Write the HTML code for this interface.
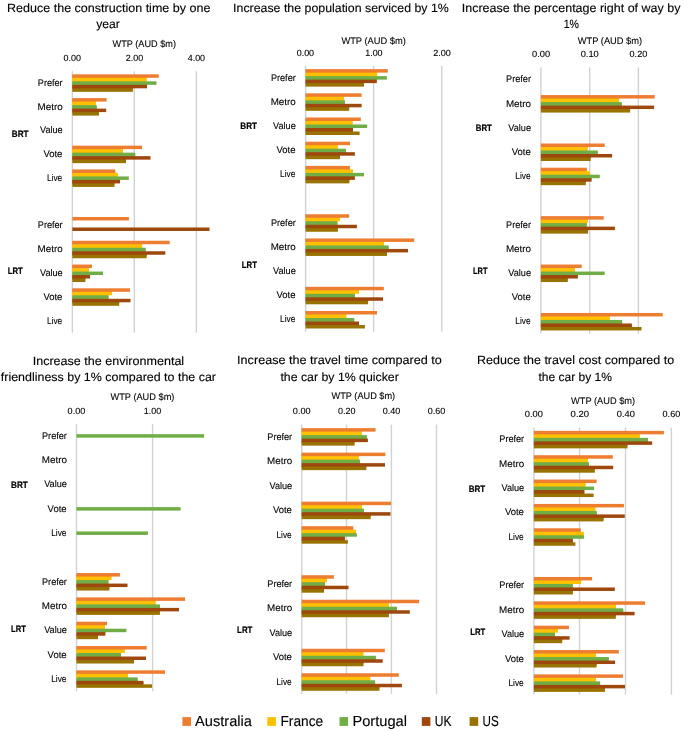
<!DOCTYPE html>
<html><head><meta charset="utf-8"><style>
html,body{margin:0;padding:0;background:#fff;}
svg{display:block;will-change:transform;}
text{font-family:"Liberation Sans",sans-serif;fill:#000;text-rendering:geometricPrecision;}
.t{stroke:#000;stroke-width:0.12px;}
.l{stroke:#000;stroke-width:0.1px;}
.b{stroke:#000;stroke-width:0.2px;}
</style></head><body>
<svg width="685" height="731" viewBox="0 0 685 731" shape-rendering="auto">
<rect width="685" height="731" fill="#fff"/>
<rect x="71.65" y="71.25" width="1.4" height="261.45" fill="#D2D2D2"/>
<rect x="133.6" y="71.25" width="1.4" height="261.45" fill="#D2D2D2"/>
<rect x="195.7" y="71.25" width="1.4" height="261.45" fill="#D2D2D2"/>
<rect x="304.9" y="65.9" width="1.4" height="265.9" fill="#D2D2D2"/>
<rect x="372.9" y="65.9" width="1.4" height="265.9" fill="#D2D2D2"/>
<rect x="441.1" y="65.9" width="1.4" height="265.9" fill="#D2D2D2"/>
<rect x="540.2" y="67.4" width="1.4" height="266.4" fill="#D2D2D2"/>
<rect x="589" y="67.4" width="1.4" height="266.4" fill="#D2D2D2"/>
<rect x="637.7" y="67.4" width="1.4" height="266.4" fill="#D2D2D2"/>
<rect x="75.8" y="424" width="1.4" height="267.2" fill="#D2D2D2"/>
<rect x="151.9" y="424" width="1.4" height="267.2" fill="#D2D2D2"/>
<rect x="301" y="424.6" width="1.4" height="269.2" fill="#D2D2D2"/>
<rect x="345.8" y="424.6" width="1.4" height="269.2" fill="#D2D2D2"/>
<rect x="390.7" y="424.6" width="1.4" height="269.2" fill="#D2D2D2"/>
<rect x="435.8" y="424.6" width="1.4" height="269.2" fill="#D2D2D2"/>
<rect x="533.2" y="427.6" width="1.4" height="266.9" fill="#D2D2D2"/>
<rect x="578.8" y="427.6" width="1.4" height="266.9" fill="#D2D2D2"/>
<rect x="624.8" y="427.6" width="1.4" height="266.9" fill="#D2D2D2"/>
<rect x="670.7" y="427.6" width="1.4" height="266.9" fill="#D2D2D2"/>
<rect x="72.35" y="75.32" width="74.15" height="3.5" fill="#ED7D31"/>
<rect x="72.35" y="74.32" width="86.35" height="3.5" fill="#ED7D31"/>
<rect x="72.35" y="78.82" width="74.15" height="3.5" fill="#FFC000"/>
<rect x="72.35" y="77.82" width="74.15" height="3.5" fill="#FFC000"/>
<rect x="72.35" y="82.32" width="74.65" height="3.5" fill="#70AD47"/>
<rect x="72.35" y="81.32" width="84.15" height="3.5" fill="#70AD47"/>
<rect x="72.35" y="85.82" width="60.55" height="3.5" fill="#9E480E"/>
<rect x="72.35" y="84.82" width="74.65" height="3.5" fill="#9E480E"/>
<rect x="72.35" y="88.32" width="60.55" height="3.5" fill="#997300"/>
<rect x="72.35" y="99.1" width="23.35" height="3.5" fill="#ED7D31"/>
<rect x="72.35" y="98.1" width="34.25" height="3.5" fill="#ED7D31"/>
<rect x="72.35" y="102.6" width="23.35" height="3.5" fill="#FFC000"/>
<rect x="72.35" y="101.6" width="23.35" height="3.5" fill="#FFC000"/>
<rect x="72.35" y="106.1" width="24.35" height="3.5" fill="#70AD47"/>
<rect x="72.35" y="105.1" width="24.35" height="3.5" fill="#70AD47"/>
<rect x="72.35" y="109.6" width="26.65" height="3.5" fill="#9E480E"/>
<rect x="72.35" y="108.6" width="33.85" height="3.5" fill="#9E480E"/>
<rect x="72.35" y="112.1" width="26.65" height="3.5" fill="#997300"/>
<rect x="72.35" y="146.65" width="50.65" height="3.5" fill="#ED7D31"/>
<rect x="72.35" y="145.65" width="69.75" height="3.5" fill="#ED7D31"/>
<rect x="72.35" y="150.15" width="50.65" height="3.5" fill="#FFC000"/>
<rect x="72.35" y="149.15" width="50.65" height="3.5" fill="#FFC000"/>
<rect x="72.35" y="153.65" width="62.85" height="3.5" fill="#70AD47"/>
<rect x="72.35" y="152.65" width="62.85" height="3.5" fill="#70AD47"/>
<rect x="72.35" y="157.15" width="53.65" height="3.5" fill="#9E480E"/>
<rect x="72.35" y="156.15" width="78.15" height="3.5" fill="#9E480E"/>
<rect x="72.35" y="159.65" width="53.65" height="3.5" fill="#997300"/>
<rect x="72.35" y="170.42" width="42.85" height="3.5" fill="#ED7D31"/>
<rect x="72.35" y="169.42" width="42.85" height="3.5" fill="#ED7D31"/>
<rect x="72.35" y="173.92" width="45.65" height="3.5" fill="#FFC000"/>
<rect x="72.35" y="172.92" width="45.65" height="3.5" fill="#FFC000"/>
<rect x="72.35" y="177.42" width="47.65" height="3.5" fill="#70AD47"/>
<rect x="72.35" y="176.42" width="56.45" height="3.5" fill="#70AD47"/>
<rect x="72.35" y="180.92" width="42.15" height="3.5" fill="#9E480E"/>
<rect x="72.35" y="179.92" width="47.65" height="3.5" fill="#9E480E"/>
<rect x="72.35" y="183.42" width="42.15" height="3.5" fill="#997300"/>
<rect x="72.35" y="216.98" width="56.55" height="3.5" fill="#ED7D31"/>
<rect x="72.35" y="227.48" width="137.15" height="3.5" fill="#9E480E"/>
<rect x="72.35" y="241.75" width="69.75" height="3.5" fill="#ED7D31"/>
<rect x="72.35" y="240.75" width="97.35" height="3.5" fill="#ED7D31"/>
<rect x="72.35" y="245.25" width="69.75" height="3.5" fill="#FFC000"/>
<rect x="72.35" y="244.25" width="69.75" height="3.5" fill="#FFC000"/>
<rect x="72.35" y="248.75" width="73.25" height="3.5" fill="#70AD47"/>
<rect x="72.35" y="247.75" width="73.25" height="3.5" fill="#70AD47"/>
<rect x="72.35" y="252.25" width="74.35" height="3.5" fill="#9E480E"/>
<rect x="72.35" y="251.25" width="92.95" height="3.5" fill="#9E480E"/>
<rect x="72.35" y="254.75" width="74.35" height="3.5" fill="#997300"/>
<rect x="72.35" y="265.53" width="16.45" height="3.5" fill="#ED7D31"/>
<rect x="72.35" y="264.53" width="19.65" height="3.5" fill="#ED7D31"/>
<rect x="72.35" y="269.03" width="16.45" height="3.5" fill="#FFC000"/>
<rect x="72.35" y="268.03" width="16.45" height="3.5" fill="#FFC000"/>
<rect x="72.35" y="272.53" width="17.75" height="3.5" fill="#70AD47"/>
<rect x="72.35" y="271.53" width="30.65" height="3.5" fill="#70AD47"/>
<rect x="72.35" y="276.03" width="13.05" height="3.5" fill="#9E480E"/>
<rect x="72.35" y="275.03" width="17.75" height="3.5" fill="#9E480E"/>
<rect x="72.35" y="278.53" width="13.05" height="3.5" fill="#997300"/>
<rect x="72.35" y="289.3" width="39.65" height="3.5" fill="#ED7D31"/>
<rect x="72.35" y="288.3" width="57.65" height="3.5" fill="#ED7D31"/>
<rect x="72.35" y="292.8" width="36.15" height="3.5" fill="#FFC000"/>
<rect x="72.35" y="291.8" width="39.65" height="3.5" fill="#FFC000"/>
<rect x="72.35" y="296.3" width="36.15" height="3.5" fill="#70AD47"/>
<rect x="72.35" y="295.3" width="36.15" height="3.5" fill="#70AD47"/>
<rect x="72.35" y="299.8" width="46.85" height="3.5" fill="#9E480E"/>
<rect x="72.35" y="298.8" width="58.15" height="3.5" fill="#9E480E"/>
<rect x="72.35" y="302.3" width="46.85" height="3.5" fill="#997300"/>
<rect x="305.6" y="70.13" width="71.5" height="3.5" fill="#ED7D31"/>
<rect x="305.6" y="69.13" width="82.2" height="3.5" fill="#ED7D31"/>
<rect x="305.6" y="73.63" width="71.5" height="3.5" fill="#FFC000"/>
<rect x="305.6" y="72.63" width="71.5" height="3.5" fill="#FFC000"/>
<rect x="305.6" y="77.13" width="71.2" height="3.5" fill="#70AD47"/>
<rect x="305.6" y="76.13" width="81.2" height="3.5" fill="#70AD47"/>
<rect x="305.6" y="80.63" width="58.4" height="3.5" fill="#9E480E"/>
<rect x="305.6" y="79.63" width="71.2" height="3.5" fill="#9E480E"/>
<rect x="305.6" y="83.13" width="58.4" height="3.5" fill="#997300"/>
<rect x="305.6" y="94.32" width="38.4" height="3.5" fill="#ED7D31"/>
<rect x="305.6" y="93.32" width="56" height="3.5" fill="#ED7D31"/>
<rect x="305.6" y="97.82" width="38.4" height="3.5" fill="#FFC000"/>
<rect x="305.6" y="96.82" width="38.4" height="3.5" fill="#FFC000"/>
<rect x="305.6" y="101.32" width="39.4" height="3.5" fill="#70AD47"/>
<rect x="305.6" y="100.32" width="39.4" height="3.5" fill="#70AD47"/>
<rect x="305.6" y="104.82" width="43.6" height="3.5" fill="#9E480E"/>
<rect x="305.6" y="103.82" width="56" height="3.5" fill="#9E480E"/>
<rect x="305.6" y="107.32" width="43.6" height="3.5" fill="#997300"/>
<rect x="305.6" y="118.5" width="46.9" height="3.5" fill="#ED7D31"/>
<rect x="305.6" y="117.5" width="55.2" height="3.5" fill="#ED7D31"/>
<rect x="305.6" y="122" width="46.9" height="3.5" fill="#FFC000"/>
<rect x="305.6" y="121" width="46.9" height="3.5" fill="#FFC000"/>
<rect x="305.6" y="125.5" width="47.3" height="3.5" fill="#70AD47"/>
<rect x="305.6" y="124.5" width="61.6" height="3.5" fill="#70AD47"/>
<rect x="305.6" y="129" width="47.3" height="3.5" fill="#9E480E"/>
<rect x="305.6" y="128" width="47.3" height="3.5" fill="#9E480E"/>
<rect x="305.6" y="131.5" width="54" height="3.5" fill="#997300"/>
<rect x="305.6" y="142.69" width="32.1" height="3.5" fill="#ED7D31"/>
<rect x="305.6" y="141.69" width="44.5" height="3.5" fill="#ED7D31"/>
<rect x="305.6" y="146.19" width="32.1" height="3.5" fill="#FFC000"/>
<rect x="305.6" y="145.19" width="32.1" height="3.5" fill="#FFC000"/>
<rect x="305.6" y="149.69" width="40.3" height="3.5" fill="#70AD47"/>
<rect x="305.6" y="148.69" width="40.3" height="3.5" fill="#70AD47"/>
<rect x="305.6" y="153.19" width="34.4" height="3.5" fill="#9E480E"/>
<rect x="305.6" y="152.19" width="49.3" height="3.5" fill="#9E480E"/>
<rect x="305.6" y="155.69" width="34.4" height="3.5" fill="#997300"/>
<rect x="305.6" y="166.87" width="44.2" height="3.5" fill="#ED7D31"/>
<rect x="305.6" y="165.87" width="44.2" height="3.5" fill="#ED7D31"/>
<rect x="305.6" y="170.37" width="47.4" height="3.5" fill="#FFC000"/>
<rect x="305.6" y="169.37" width="47.4" height="3.5" fill="#FFC000"/>
<rect x="305.6" y="173.87" width="49.3" height="3.5" fill="#70AD47"/>
<rect x="305.6" y="172.87" width="58.4" height="3.5" fill="#70AD47"/>
<rect x="305.6" y="177.37" width="43.8" height="3.5" fill="#9E480E"/>
<rect x="305.6" y="176.37" width="49.3" height="3.5" fill="#9E480E"/>
<rect x="305.6" y="179.87" width="43.8" height="3.5" fill="#997300"/>
<rect x="305.6" y="215.25" width="34.4" height="3.5" fill="#ED7D31"/>
<rect x="305.6" y="214.25" width="43.6" height="3.5" fill="#ED7D31"/>
<rect x="305.6" y="218.75" width="31.8" height="3.5" fill="#FFC000"/>
<rect x="305.6" y="217.75" width="34.4" height="3.5" fill="#FFC000"/>
<rect x="305.6" y="222.25" width="31.8" height="3.5" fill="#70AD47"/>
<rect x="305.6" y="221.25" width="31.8" height="3.5" fill="#70AD47"/>
<rect x="305.6" y="225.75" width="32.3" height="3.5" fill="#9E480E"/>
<rect x="305.6" y="224.75" width="51.3" height="3.5" fill="#9E480E"/>
<rect x="305.6" y="228.25" width="32.3" height="3.5" fill="#997300"/>
<rect x="305.6" y="239.43" width="78.2" height="3.5" fill="#ED7D31"/>
<rect x="305.6" y="238.43" width="108.6" height="3.5" fill="#ED7D31"/>
<rect x="305.6" y="242.93" width="78.2" height="3.5" fill="#FFC000"/>
<rect x="305.6" y="241.93" width="78.2" height="3.5" fill="#FFC000"/>
<rect x="305.6" y="246.43" width="83" height="3.5" fill="#70AD47"/>
<rect x="305.6" y="245.43" width="83" height="3.5" fill="#70AD47"/>
<rect x="305.6" y="249.93" width="81.4" height="3.5" fill="#9E480E"/>
<rect x="305.6" y="248.93" width="102.4" height="3.5" fill="#9E480E"/>
<rect x="305.6" y="252.43" width="81.4" height="3.5" fill="#997300"/>
<rect x="305.6" y="287.8" width="53.4" height="3.5" fill="#ED7D31"/>
<rect x="305.6" y="286.8" width="78.2" height="3.5" fill="#ED7D31"/>
<rect x="305.6" y="291.3" width="49.3" height="3.5" fill="#FFC000"/>
<rect x="305.6" y="290.3" width="53.4" height="3.5" fill="#FFC000"/>
<rect x="305.6" y="294.8" width="49.3" height="3.5" fill="#70AD47"/>
<rect x="305.6" y="293.8" width="49.3" height="3.5" fill="#70AD47"/>
<rect x="305.6" y="298.3" width="62.5" height="3.5" fill="#9E480E"/>
<rect x="305.6" y="297.3" width="77.4" height="3.5" fill="#9E480E"/>
<rect x="305.6" y="300.8" width="62.5" height="3.5" fill="#997300"/>
<rect x="305.6" y="311.99" width="40.6" height="3.5" fill="#ED7D31"/>
<rect x="305.6" y="310.99" width="71.4" height="3.5" fill="#ED7D31"/>
<rect x="305.6" y="315.49" width="40.6" height="3.5" fill="#FFC000"/>
<rect x="305.6" y="314.49" width="40.6" height="3.5" fill="#FFC000"/>
<rect x="305.6" y="318.99" width="48.6" height="3.5" fill="#70AD47"/>
<rect x="305.6" y="317.99" width="48.6" height="3.5" fill="#70AD47"/>
<rect x="305.6" y="322.49" width="53.4" height="3.5" fill="#9E480E"/>
<rect x="305.6" y="321.49" width="53.4" height="3.5" fill="#9E480E"/>
<rect x="305.6" y="324.99" width="59.3" height="3.5" fill="#997300"/>
<rect x="540.9" y="96.07" width="78.2" height="3.5" fill="#ED7D31"/>
<rect x="540.9" y="95.07" width="113.8" height="3.5" fill="#ED7D31"/>
<rect x="540.9" y="99.57" width="78.2" height="3.5" fill="#FFC000"/>
<rect x="540.9" y="98.57" width="78.2" height="3.5" fill="#FFC000"/>
<rect x="540.9" y="103.07" width="80.8" height="3.5" fill="#70AD47"/>
<rect x="540.9" y="102.07" width="80.8" height="3.5" fill="#70AD47"/>
<rect x="540.9" y="106.57" width="89.2" height="3.5" fill="#9E480E"/>
<rect x="540.9" y="105.57" width="113.2" height="3.5" fill="#9E480E"/>
<rect x="540.9" y="109.07" width="89.2" height="3.5" fill="#997300"/>
<rect x="540.9" y="144.49" width="46.7" height="3.5" fill="#ED7D31"/>
<rect x="540.9" y="143.49" width="63.8" height="3.5" fill="#ED7D31"/>
<rect x="540.9" y="147.99" width="46.7" height="3.5" fill="#FFC000"/>
<rect x="540.9" y="146.99" width="46.7" height="3.5" fill="#FFC000"/>
<rect x="540.9" y="151.49" width="56.8" height="3.5" fill="#70AD47"/>
<rect x="540.9" y="150.49" width="56.8" height="3.5" fill="#70AD47"/>
<rect x="540.9" y="154.99" width="49.8" height="3.5" fill="#9E480E"/>
<rect x="540.9" y="153.99" width="71.2" height="3.5" fill="#9E480E"/>
<rect x="540.9" y="157.49" width="49.8" height="3.5" fill="#997300"/>
<rect x="540.9" y="168.7" width="45.8" height="3.5" fill="#ED7D31"/>
<rect x="540.9" y="167.7" width="45.8" height="3.5" fill="#ED7D31"/>
<rect x="540.9" y="172.2" width="48.8" height="3.5" fill="#FFC000"/>
<rect x="540.9" y="171.2" width="48.8" height="3.5" fill="#FFC000"/>
<rect x="540.9" y="175.7" width="50.7" height="3.5" fill="#70AD47"/>
<rect x="540.9" y="174.7" width="58.9" height="3.5" fill="#70AD47"/>
<rect x="540.9" y="179.2" width="44.9" height="3.5" fill="#9E480E"/>
<rect x="540.9" y="178.2" width="50.7" height="3.5" fill="#9E480E"/>
<rect x="540.9" y="181.7" width="44.9" height="3.5" fill="#997300"/>
<rect x="540.9" y="217.12" width="46.9" height="3.5" fill="#ED7D31"/>
<rect x="540.9" y="216.12" width="62.8" height="3.5" fill="#ED7D31"/>
<rect x="540.9" y="220.62" width="45.9" height="3.5" fill="#FFC000"/>
<rect x="540.9" y="219.62" width="46.9" height="3.5" fill="#FFC000"/>
<rect x="540.9" y="224.12" width="45.9" height="3.5" fill="#70AD47"/>
<rect x="540.9" y="223.12" width="45.9" height="3.5" fill="#70AD47"/>
<rect x="540.9" y="227.62" width="47.2" height="3.5" fill="#9E480E"/>
<rect x="540.9" y="226.62" width="74" height="3.5" fill="#9E480E"/>
<rect x="540.9" y="230.12" width="47.2" height="3.5" fill="#997300"/>
<rect x="540.9" y="265.54" width="34.1" height="3.5" fill="#ED7D31"/>
<rect x="540.9" y="264.54" width="40.8" height="3.5" fill="#ED7D31"/>
<rect x="540.9" y="269.04" width="34.1" height="3.5" fill="#FFC000"/>
<rect x="540.9" y="268.04" width="34.1" height="3.5" fill="#FFC000"/>
<rect x="540.9" y="272.54" width="37" height="3.5" fill="#70AD47"/>
<rect x="540.9" y="271.54" width="63.8" height="3.5" fill="#70AD47"/>
<rect x="540.9" y="276.04" width="26.9" height="3.5" fill="#9E480E"/>
<rect x="540.9" y="275.04" width="37" height="3.5" fill="#9E480E"/>
<rect x="540.9" y="278.54" width="26.9" height="3.5" fill="#997300"/>
<rect x="540.9" y="313.96" width="68.7" height="3.5" fill="#ED7D31"/>
<rect x="540.9" y="312.96" width="121.8" height="3.5" fill="#ED7D31"/>
<rect x="540.9" y="317.46" width="68.7" height="3.5" fill="#FFC000"/>
<rect x="540.9" y="316.46" width="68.7" height="3.5" fill="#FFC000"/>
<rect x="540.9" y="320.96" width="81.2" height="3.5" fill="#70AD47"/>
<rect x="540.9" y="319.96" width="81.2" height="3.5" fill="#70AD47"/>
<rect x="540.9" y="324.46" width="90.9" height="3.5" fill="#9E480E"/>
<rect x="540.9" y="323.46" width="90.9" height="3.5" fill="#9E480E"/>
<rect x="540.9" y="326.96" width="100.6" height="3.5" fill="#997300"/>
<rect x="76.5" y="434.17" width="127.6" height="3.5" fill="#70AD47"/>
<rect x="76.5" y="507.12" width="104.1" height="3.5" fill="#70AD47"/>
<rect x="76.5" y="531.43" width="71.4" height="3.5" fill="#70AD47"/>
<rect x="76.5" y="574.07" width="35" height="3.5" fill="#ED7D31"/>
<rect x="76.5" y="573.07" width="43.4" height="3.5" fill="#ED7D31"/>
<rect x="76.5" y="577.57" width="31.9" height="3.5" fill="#FFC000"/>
<rect x="76.5" y="576.57" width="35" height="3.5" fill="#FFC000"/>
<rect x="76.5" y="581.07" width="31.9" height="3.5" fill="#70AD47"/>
<rect x="76.5" y="580.07" width="31.9" height="3.5" fill="#70AD47"/>
<rect x="76.5" y="584.57" width="32.9" height="3.5" fill="#9E480E"/>
<rect x="76.5" y="583.57" width="51" height="3.5" fill="#9E480E"/>
<rect x="76.5" y="587.07" width="32.9" height="3.5" fill="#997300"/>
<rect x="76.5" y="598.38" width="79" height="3.5" fill="#ED7D31"/>
<rect x="76.5" y="597.38" width="108.6" height="3.5" fill="#ED7D31"/>
<rect x="76.5" y="601.88" width="79" height="3.5" fill="#FFC000"/>
<rect x="76.5" y="600.88" width="79" height="3.5" fill="#FFC000"/>
<rect x="76.5" y="605.38" width="83.4" height="3.5" fill="#70AD47"/>
<rect x="76.5" y="604.38" width="83.4" height="3.5" fill="#70AD47"/>
<rect x="76.5" y="608.88" width="83.4" height="3.5" fill="#9E480E"/>
<rect x="76.5" y="607.88" width="102.5" height="3.5" fill="#9E480E"/>
<rect x="76.5" y="611.38" width="83.4" height="3.5" fill="#997300"/>
<rect x="76.5" y="622.7" width="28.4" height="3.5" fill="#ED7D31"/>
<rect x="76.5" y="621.7" width="30.6" height="3.5" fill="#ED7D31"/>
<rect x="76.5" y="626.2" width="28.4" height="3.5" fill="#FFC000"/>
<rect x="76.5" y="625.2" width="28.4" height="3.5" fill="#FFC000"/>
<rect x="76.5" y="629.7" width="28.9" height="3.5" fill="#70AD47"/>
<rect x="76.5" y="628.7" width="49.9" height="3.5" fill="#70AD47"/>
<rect x="76.5" y="633.2" width="21.5" height="3.5" fill="#9E480E"/>
<rect x="76.5" y="632.2" width="28.9" height="3.5" fill="#9E480E"/>
<rect x="76.5" y="635.7" width="21.5" height="3.5" fill="#997300"/>
<rect x="76.5" y="647.01" width="48.3" height="3.5" fill="#ED7D31"/>
<rect x="76.5" y="646.01" width="70.2" height="3.5" fill="#ED7D31"/>
<rect x="76.5" y="650.51" width="44.5" height="3.5" fill="#FFC000"/>
<rect x="76.5" y="649.51" width="48.3" height="3.5" fill="#FFC000"/>
<rect x="76.5" y="654.01" width="44.5" height="3.5" fill="#70AD47"/>
<rect x="76.5" y="653.01" width="44.5" height="3.5" fill="#70AD47"/>
<rect x="76.5" y="657.51" width="57.5" height="3.5" fill="#9E480E"/>
<rect x="76.5" y="656.51" width="69.5" height="3.5" fill="#9E480E"/>
<rect x="76.5" y="660.01" width="57.5" height="3.5" fill="#997300"/>
<rect x="76.5" y="671.33" width="51.5" height="3.5" fill="#ED7D31"/>
<rect x="76.5" y="670.33" width="88.5" height="3.5" fill="#ED7D31"/>
<rect x="76.5" y="674.83" width="51.5" height="3.5" fill="#FFC000"/>
<rect x="76.5" y="673.83" width="51.5" height="3.5" fill="#FFC000"/>
<rect x="76.5" y="678.33" width="61.1" height="3.5" fill="#70AD47"/>
<rect x="76.5" y="677.33" width="61.1" height="3.5" fill="#70AD47"/>
<rect x="76.5" y="681.83" width="66.9" height="3.5" fill="#9E480E"/>
<rect x="76.5" y="680.83" width="66.9" height="3.5" fill="#9E480E"/>
<rect x="76.5" y="684.33" width="75.5" height="3.5" fill="#997300"/>
<rect x="301.7" y="429.13" width="59.9" height="3.5" fill="#ED7D31"/>
<rect x="301.7" y="428.13" width="73.9" height="3.5" fill="#ED7D31"/>
<rect x="301.7" y="432.63" width="59.9" height="3.5" fill="#FFC000"/>
<rect x="301.7" y="431.63" width="59.9" height="3.5" fill="#FFC000"/>
<rect x="301.7" y="436.13" width="65.1" height="3.5" fill="#70AD47"/>
<rect x="301.7" y="435.13" width="65.1" height="3.5" fill="#70AD47"/>
<rect x="301.7" y="439.63" width="52.9" height="3.5" fill="#9E480E"/>
<rect x="301.7" y="438.63" width="66.2" height="3.5" fill="#9E480E"/>
<rect x="301.7" y="442.13" width="52.9" height="3.5" fill="#997300"/>
<rect x="301.7" y="453.64" width="56.9" height="3.5" fill="#ED7D31"/>
<rect x="301.7" y="452.64" width="83.7" height="3.5" fill="#ED7D31"/>
<rect x="301.7" y="457.14" width="56.9" height="3.5" fill="#FFC000"/>
<rect x="301.7" y="456.14" width="56.9" height="3.5" fill="#FFC000"/>
<rect x="301.7" y="460.64" width="58.3" height="3.5" fill="#70AD47"/>
<rect x="301.7" y="459.64" width="58.3" height="3.5" fill="#70AD47"/>
<rect x="301.7" y="464.14" width="64.6" height="3.5" fill="#9E480E"/>
<rect x="301.7" y="463.14" width="83.3" height="3.5" fill="#9E480E"/>
<rect x="301.7" y="466.64" width="64.6" height="3.5" fill="#997300"/>
<rect x="301.7" y="502.67" width="60.2" height="3.5" fill="#ED7D31"/>
<rect x="301.7" y="501.67" width="89.3" height="3.5" fill="#ED7D31"/>
<rect x="301.7" y="506.17" width="60.2" height="3.5" fill="#FFC000"/>
<rect x="301.7" y="505.17" width="60.2" height="3.5" fill="#FFC000"/>
<rect x="301.7" y="509.67" width="62.2" height="3.5" fill="#70AD47"/>
<rect x="301.7" y="508.67" width="62.2" height="3.5" fill="#70AD47"/>
<rect x="301.7" y="513.17" width="69" height="3.5" fill="#9E480E"/>
<rect x="301.7" y="512.17" width="88.8" height="3.5" fill="#9E480E"/>
<rect x="301.7" y="515.67" width="69" height="3.5" fill="#997300"/>
<rect x="301.7" y="527.19" width="51.5" height="3.5" fill="#ED7D31"/>
<rect x="301.7" y="526.19" width="51.5" height="3.5" fill="#ED7D31"/>
<rect x="301.7" y="530.69" width="54.3" height="3.5" fill="#FFC000"/>
<rect x="301.7" y="529.69" width="54.3" height="3.5" fill="#FFC000"/>
<rect x="301.7" y="534.19" width="43.2" height="3.5" fill="#70AD47"/>
<rect x="301.7" y="533.19" width="55.1" height="3.5" fill="#70AD47"/>
<rect x="301.7" y="537.69" width="43.2" height="3.5" fill="#9E480E"/>
<rect x="301.7" y="536.69" width="43.2" height="3.5" fill="#9E480E"/>
<rect x="301.7" y="540.19" width="46.2" height="3.5" fill="#997300"/>
<rect x="301.7" y="576.21" width="25.2" height="3.5" fill="#ED7D31"/>
<rect x="301.7" y="575.21" width="32.2" height="3.5" fill="#ED7D31"/>
<rect x="301.7" y="579.71" width="23.3" height="3.5" fill="#FFC000"/>
<rect x="301.7" y="578.71" width="25.2" height="3.5" fill="#FFC000"/>
<rect x="301.7" y="583.21" width="23.3" height="3.5" fill="#70AD47"/>
<rect x="301.7" y="582.21" width="23.3" height="3.5" fill="#70AD47"/>
<rect x="301.7" y="586.71" width="22.3" height="3.5" fill="#9E480E"/>
<rect x="301.7" y="585.71" width="46.8" height="3.5" fill="#9E480E"/>
<rect x="301.7" y="589.21" width="22.3" height="3.5" fill="#997300"/>
<rect x="301.7" y="600.73" width="87.2" height="3.5" fill="#ED7D31"/>
<rect x="301.7" y="599.73" width="117.4" height="3.5" fill="#ED7D31"/>
<rect x="301.7" y="604.23" width="87.2" height="3.5" fill="#FFC000"/>
<rect x="301.7" y="603.23" width="87.2" height="3.5" fill="#FFC000"/>
<rect x="301.7" y="607.73" width="95.2" height="3.5" fill="#70AD47"/>
<rect x="301.7" y="606.73" width="95.2" height="3.5" fill="#70AD47"/>
<rect x="301.7" y="611.23" width="87.2" height="3.5" fill="#9E480E"/>
<rect x="301.7" y="610.23" width="108.1" height="3.5" fill="#9E480E"/>
<rect x="301.7" y="613.73" width="87.2" height="3.5" fill="#997300"/>
<rect x="301.7" y="649.76" width="61.6" height="3.5" fill="#ED7D31"/>
<rect x="301.7" y="648.76" width="83.1" height="3.5" fill="#ED7D31"/>
<rect x="301.7" y="653.26" width="61.6" height="3.5" fill="#FFC000"/>
<rect x="301.7" y="652.26" width="61.6" height="3.5" fill="#FFC000"/>
<rect x="301.7" y="656.76" width="74.1" height="3.5" fill="#70AD47"/>
<rect x="301.7" y="655.76" width="74.1" height="3.5" fill="#70AD47"/>
<rect x="301.7" y="660.26" width="61.8" height="3.5" fill="#9E480E"/>
<rect x="301.7" y="659.26" width="81" height="3.5" fill="#9E480E"/>
<rect x="301.7" y="662.76" width="61.8" height="3.5" fill="#997300"/>
<rect x="301.7" y="674.27" width="68.5" height="3.5" fill="#ED7D31"/>
<rect x="301.7" y="673.27" width="97.1" height="3.5" fill="#ED7D31"/>
<rect x="301.7" y="677.77" width="68.5" height="3.5" fill="#FFC000"/>
<rect x="301.7" y="676.77" width="68.5" height="3.5" fill="#FFC000"/>
<rect x="301.7" y="681.27" width="73.4" height="3.5" fill="#70AD47"/>
<rect x="301.7" y="680.27" width="73.4" height="3.5" fill="#70AD47"/>
<rect x="301.7" y="684.77" width="77.8" height="3.5" fill="#9E480E"/>
<rect x="301.7" y="683.77" width="100.2" height="3.5" fill="#9E480E"/>
<rect x="301.7" y="687.27" width="77.8" height="3.5" fill="#997300"/>
<rect x="533.9" y="431.86" width="105.8" height="3.5" fill="#ED7D31"/>
<rect x="533.9" y="430.86" width="130" height="3.5" fill="#ED7D31"/>
<rect x="533.9" y="435.36" width="105.8" height="3.5" fill="#FFC000"/>
<rect x="533.9" y="434.36" width="105.8" height="3.5" fill="#FFC000"/>
<rect x="533.9" y="438.86" width="114" height="3.5" fill="#70AD47"/>
<rect x="533.9" y="437.86" width="114" height="3.5" fill="#70AD47"/>
<rect x="533.9" y="442.36" width="93.6" height="3.5" fill="#9E480E"/>
<rect x="533.9" y="441.36" width="118.3" height="3.5" fill="#9E480E"/>
<rect x="533.9" y="444.86" width="93.6" height="3.5" fill="#997300"/>
<rect x="533.9" y="456.21" width="53.9" height="3.5" fill="#ED7D31"/>
<rect x="533.9" y="455.21" width="78.9" height="3.5" fill="#ED7D31"/>
<rect x="533.9" y="459.71" width="53.9" height="3.5" fill="#FFC000"/>
<rect x="533.9" y="458.71" width="53.9" height="3.5" fill="#FFC000"/>
<rect x="533.9" y="463.21" width="55" height="3.5" fill="#70AD47"/>
<rect x="533.9" y="462.21" width="55" height="3.5" fill="#70AD47"/>
<rect x="533.9" y="466.71" width="60.9" height="3.5" fill="#9E480E"/>
<rect x="533.9" y="465.71" width="79.3" height="3.5" fill="#9E480E"/>
<rect x="533.9" y="469.21" width="60.9" height="3.5" fill="#997300"/>
<rect x="533.9" y="480.56" width="51.5" height="3.5" fill="#ED7D31"/>
<rect x="533.9" y="479.56" width="62.7" height="3.5" fill="#ED7D31"/>
<rect x="533.9" y="484.06" width="51.5" height="3.5" fill="#FFC000"/>
<rect x="533.9" y="483.06" width="51.5" height="3.5" fill="#FFC000"/>
<rect x="533.9" y="487.56" width="50.4" height="3.5" fill="#70AD47"/>
<rect x="533.9" y="486.56" width="60.2" height="3.5" fill="#70AD47"/>
<rect x="533.9" y="491.06" width="50.4" height="3.5" fill="#9E480E"/>
<rect x="533.9" y="490.06" width="50.4" height="3.5" fill="#9E480E"/>
<rect x="533.9" y="493.56" width="59.7" height="3.5" fill="#997300"/>
<rect x="533.9" y="504.92" width="61.4" height="3.5" fill="#ED7D31"/>
<rect x="533.9" y="503.92" width="90" height="3.5" fill="#ED7D31"/>
<rect x="533.9" y="508.42" width="61.4" height="3.5" fill="#FFC000"/>
<rect x="533.9" y="507.42" width="61.4" height="3.5" fill="#FFC000"/>
<rect x="533.9" y="511.92" width="62.8" height="3.5" fill="#70AD47"/>
<rect x="533.9" y="510.92" width="62.8" height="3.5" fill="#70AD47"/>
<rect x="533.9" y="515.42" width="69.7" height="3.5" fill="#9E480E"/>
<rect x="533.9" y="514.42" width="90.9" height="3.5" fill="#9E480E"/>
<rect x="533.9" y="517.92" width="69.7" height="3.5" fill="#997300"/>
<rect x="533.9" y="529.27" width="46.7" height="3.5" fill="#ED7D31"/>
<rect x="533.9" y="528.27" width="46.7" height="3.5" fill="#ED7D31"/>
<rect x="533.9" y="532.77" width="49.9" height="3.5" fill="#FFC000"/>
<rect x="533.9" y="531.77" width="49.9" height="3.5" fill="#FFC000"/>
<rect x="533.9" y="536.27" width="38.8" height="3.5" fill="#70AD47"/>
<rect x="533.9" y="535.27" width="50.1" height="3.5" fill="#70AD47"/>
<rect x="533.9" y="539.77" width="38.8" height="3.5" fill="#9E480E"/>
<rect x="533.9" y="538.77" width="38.8" height="3.5" fill="#9E480E"/>
<rect x="533.9" y="542.27" width="41.5" height="3.5" fill="#997300"/>
<rect x="533.9" y="577.97" width="47.2" height="3.5" fill="#ED7D31"/>
<rect x="533.9" y="576.97" width="58.2" height="3.5" fill="#ED7D31"/>
<rect x="533.9" y="581.47" width="39" height="3.5" fill="#FFC000"/>
<rect x="533.9" y="580.47" width="47.2" height="3.5" fill="#FFC000"/>
<rect x="533.9" y="584.97" width="39" height="3.5" fill="#70AD47"/>
<rect x="533.9" y="583.97" width="39" height="3.5" fill="#70AD47"/>
<rect x="533.9" y="588.47" width="39" height="3.5" fill="#9E480E"/>
<rect x="533.9" y="587.47" width="80.9" height="3.5" fill="#9E480E"/>
<rect x="533.9" y="590.97" width="39" height="3.5" fill="#997300"/>
<rect x="533.9" y="602.32" width="81.9" height="3.5" fill="#ED7D31"/>
<rect x="533.9" y="601.32" width="111.2" height="3.5" fill="#ED7D31"/>
<rect x="533.9" y="605.82" width="81.9" height="3.5" fill="#FFC000"/>
<rect x="533.9" y="604.82" width="81.9" height="3.5" fill="#FFC000"/>
<rect x="533.9" y="609.32" width="89.3" height="3.5" fill="#70AD47"/>
<rect x="533.9" y="608.32" width="89.3" height="3.5" fill="#70AD47"/>
<rect x="533.9" y="612.82" width="81.9" height="3.5" fill="#9E480E"/>
<rect x="533.9" y="611.82" width="100.7" height="3.5" fill="#9E480E"/>
<rect x="533.9" y="615.32" width="81.9" height="3.5" fill="#997300"/>
<rect x="533.9" y="626.68" width="24.1" height="3.5" fill="#ED7D31"/>
<rect x="533.9" y="625.68" width="35" height="3.5" fill="#ED7D31"/>
<rect x="533.9" y="630.18" width="21" height="3.5" fill="#FFC000"/>
<rect x="533.9" y="629.18" width="24.1" height="3.5" fill="#FFC000"/>
<rect x="533.9" y="633.68" width="21" height="3.5" fill="#70AD47"/>
<rect x="533.9" y="632.68" width="21" height="3.5" fill="#70AD47"/>
<rect x="533.9" y="637.18" width="28.3" height="3.5" fill="#9E480E"/>
<rect x="533.9" y="636.18" width="35.7" height="3.5" fill="#9E480E"/>
<rect x="533.9" y="639.68" width="28.3" height="3.5" fill="#997300"/>
<rect x="533.9" y="651.03" width="62.1" height="3.5" fill="#ED7D31"/>
<rect x="533.9" y="650.03" width="84.9" height="3.5" fill="#ED7D31"/>
<rect x="533.9" y="654.53" width="62.1" height="3.5" fill="#FFC000"/>
<rect x="533.9" y="653.53" width="62.1" height="3.5" fill="#FFC000"/>
<rect x="533.9" y="658.03" width="74.9" height="3.5" fill="#70AD47"/>
<rect x="533.9" y="657.03" width="74.9" height="3.5" fill="#70AD47"/>
<rect x="533.9" y="661.53" width="62.7" height="3.5" fill="#9E480E"/>
<rect x="533.9" y="660.53" width="81.2" height="3.5" fill="#9E480E"/>
<rect x="533.9" y="664.03" width="62.7" height="3.5" fill="#997300"/>
<rect x="533.9" y="675.38" width="62.1" height="3.5" fill="#ED7D31"/>
<rect x="533.9" y="674.38" width="89" height="3.5" fill="#ED7D31"/>
<rect x="533.9" y="678.88" width="62.1" height="3.5" fill="#FFC000"/>
<rect x="533.9" y="677.88" width="62.1" height="3.5" fill="#FFC000"/>
<rect x="533.9" y="682.38" width="66.2" height="3.5" fill="#70AD47"/>
<rect x="533.9" y="681.38" width="66.2" height="3.5" fill="#70AD47"/>
<rect x="533.9" y="685.88" width="71.1" height="3.5" fill="#9E480E"/>
<rect x="533.9" y="684.88" width="91.1" height="3.5" fill="#9E480E"/>
<rect x="533.9" y="688.38" width="71.1" height="3.5" fill="#997300"/>
<rect x="182.4" y="717.1" width="8.6" height="8.8" fill="#ED7D31"/>
<rect x="267.3" y="717.1" width="8.6" height="8.8" fill="#FFC000"/>
<rect x="339.5" y="717.1" width="8.6" height="8.8" fill="#70AD47"/>
<rect x="421.8" y="717.1" width="8.6" height="8.8" fill="#9E480E"/>
<rect x="469.6" y="717.1" width="8.6" height="8.8" fill="#997300"/>
<text class="t" x="7" y="11.6" font-size="12.0" textLength="203.42" lengthAdjust="spacingAndGlyphs">Reduce the construction time by one</text>
<text class="t" x="96.3" y="28.3" font-size="12.0" textLength="23.6" lengthAdjust="spacingAndGlyphs">year</text>
<text class="l" x="112.6" y="47" font-size="9.6" textLength="63.41" lengthAdjust="spacingAndGlyphs">WTP (AUD $m)</text>
<text class="b" x="11.8" y="136.6" font-size="9.3" font-weight="bold" textLength="16.7" lengthAdjust="spacingAndGlyphs">BRT</text>
<text class="b" x="7.7" y="274.1" font-size="9.3" font-weight="bold" textLength="15.09" lengthAdjust="spacingAndGlyphs">LRT</text>
<text class="l" x="37.8" y="85.82" font-size="9.6" textLength="24.88" lengthAdjust="spacingAndGlyphs">Prefer</text>
<text class="l" x="37.8" y="228.48" font-size="9.6" textLength="24.88" lengthAdjust="spacingAndGlyphs">Prefer</text>
<text class="l" x="37.6" y="109.6" font-size="9.6" textLength="25.11" lengthAdjust="spacingAndGlyphs">Metro</text>
<text class="l" x="37.6" y="252.25" font-size="9.6" textLength="25.11" lengthAdjust="spacingAndGlyphs">Metro</text>
<text class="l" x="40" y="133.37" font-size="9.6" textLength="22.69" lengthAdjust="spacingAndGlyphs">Value</text>
<text class="l" x="40" y="276.03" font-size="9.6" textLength="22.69" lengthAdjust="spacingAndGlyphs">Value</text>
<text class="l" x="43.4" y="157.15" font-size="9.6" textLength="19.02" lengthAdjust="spacingAndGlyphs">Vote</text>
<text class="l" x="43.4" y="299.8" font-size="9.6" textLength="19.02" lengthAdjust="spacingAndGlyphs">Vote</text>
<text class="l" x="47" y="180.92" font-size="9.6" textLength="15.2" lengthAdjust="spacingAndGlyphs">Live</text>
<text class="l" x="47" y="323.58" font-size="9.6" textLength="15.2" lengthAdjust="spacingAndGlyphs">Live</text>
<text class="l" x="63.6" y="61.3" font-size="9.0" textLength="17.41" lengthAdjust="spacingAndGlyphs">0.00</text>
<text class="l" x="125.8" y="61.3" font-size="9.0" textLength="17.41" lengthAdjust="spacingAndGlyphs">2.00</text>
<text class="l" x="187.7" y="61.3" font-size="9.0" textLength="17.41" lengthAdjust="spacingAndGlyphs">4.00</text>
<text class="t" x="233.1" y="11.7" font-size="12.0" textLength="215.7" lengthAdjust="spacingAndGlyphs">Increase the population serviced by 1%</text>
<text class="l" x="341.4" y="44.4" font-size="9.6" textLength="64.51" lengthAdjust="spacingAndGlyphs">WTP (AUD $m)</text>
<text class="b" x="240.3" y="129.1" font-size="9.3" font-weight="bold" textLength="16.6" lengthAdjust="spacingAndGlyphs">BRT</text>
<text class="b" x="241.8" y="267.6" font-size="9.3" font-weight="bold" textLength="15.09" lengthAdjust="spacingAndGlyphs">LRT</text>
<text class="l" x="270.9" y="80.63" font-size="9.6" textLength="24.88" lengthAdjust="spacingAndGlyphs">Prefer</text>
<text class="l" x="270.9" y="225.75" font-size="9.6" textLength="24.88" lengthAdjust="spacingAndGlyphs">Prefer</text>
<text class="l" x="270.7" y="104.82" font-size="9.6" textLength="25.11" lengthAdjust="spacingAndGlyphs">Metro</text>
<text class="l" x="270.7" y="249.93" font-size="9.6" textLength="25.11" lengthAdjust="spacingAndGlyphs">Metro</text>
<text class="l" x="273.1" y="129" font-size="9.6" textLength="22.69" lengthAdjust="spacingAndGlyphs">Value</text>
<text class="l" x="273.1" y="274.12" font-size="9.6" textLength="22.69" lengthAdjust="spacingAndGlyphs">Value</text>
<text class="l" x="276.5" y="153.19" font-size="9.6" textLength="19.02" lengthAdjust="spacingAndGlyphs">Vote</text>
<text class="l" x="276.5" y="298.3" font-size="9.6" textLength="19.02" lengthAdjust="spacingAndGlyphs">Vote</text>
<text class="l" x="280.1" y="177.37" font-size="9.6" textLength="15.2" lengthAdjust="spacingAndGlyphs">Live</text>
<text class="l" x="280.1" y="322.49" font-size="9.6" textLength="15.2" lengthAdjust="spacingAndGlyphs">Live</text>
<text class="l" x="296.7" y="55.6" font-size="9.0" textLength="17.41" lengthAdjust="spacingAndGlyphs">0.00</text>
<text class="l" x="365.2" y="55.6" font-size="9.0" textLength="17.41" lengthAdjust="spacingAndGlyphs">1.00</text>
<text class="l" x="433.2" y="55.6" font-size="9.0" textLength="17.61" lengthAdjust="spacingAndGlyphs">2.00</text>
<text class="t" x="461.8" y="11.75" font-size="12.0" textLength="218.61" lengthAdjust="spacingAndGlyphs">Increase the percentage right of way by</text>
<text class="t" x="563.7" y="28.35" font-size="12.0" textLength="15.3" lengthAdjust="spacingAndGlyphs">1%</text>
<text class="l" x="577.8" y="43.9" font-size="9.6" textLength="64.31" lengthAdjust="spacingAndGlyphs">WTP (AUD $m)</text>
<text class="b" x="475.7" y="130.5" font-size="9.3" font-weight="bold" textLength="16.2" lengthAdjust="spacingAndGlyphs">BRT</text>
<text class="b" x="473.1" y="273.5" font-size="9.3" font-weight="bold" textLength="14.39" lengthAdjust="spacingAndGlyphs">LRT</text>
<text class="l" x="506.1" y="82.36" font-size="9.6" textLength="24.88" lengthAdjust="spacingAndGlyphs">Prefer</text>
<text class="l" x="506.1" y="227.62" font-size="9.6" textLength="24.88" lengthAdjust="spacingAndGlyphs">Prefer</text>
<text class="l" x="505.9" y="106.57" font-size="9.6" textLength="25.11" lengthAdjust="spacingAndGlyphs">Metro</text>
<text class="l" x="505.9" y="251.83" font-size="9.6" textLength="25.11" lengthAdjust="spacingAndGlyphs">Metro</text>
<text class="l" x="508.3" y="130.78" font-size="9.6" textLength="22.69" lengthAdjust="spacingAndGlyphs">Value</text>
<text class="l" x="508.3" y="276.04" font-size="9.6" textLength="22.69" lengthAdjust="spacingAndGlyphs">Value</text>
<text class="l" x="511.7" y="154.99" font-size="9.6" textLength="19.02" lengthAdjust="spacingAndGlyphs">Vote</text>
<text class="l" x="511.7" y="300.25" font-size="9.6" textLength="19.02" lengthAdjust="spacingAndGlyphs">Vote</text>
<text class="l" x="515.3" y="179.2" font-size="9.6" textLength="15.2" lengthAdjust="spacingAndGlyphs">Live</text>
<text class="l" x="515.3" y="324.46" font-size="9.6" textLength="15.2" lengthAdjust="spacingAndGlyphs">Live</text>
<text class="l" x="532" y="56.8" font-size="9.0" textLength="18.11" lengthAdjust="spacingAndGlyphs">0.00</text>
<text class="l" x="580.7" y="56.8" font-size="9.0" textLength="18.11" lengthAdjust="spacingAndGlyphs">0.10</text>
<text class="l" x="629.6" y="56.8" font-size="9.0" textLength="17.61" lengthAdjust="spacingAndGlyphs">0.20</text>
<text class="t" x="32.7" y="364.5" font-size="12.0" textLength="151.47" lengthAdjust="spacingAndGlyphs">Increase the environmental</text>
<text class="t" x="0.84" y="381" font-size="12.0" textLength="215.18" lengthAdjust="spacingAndGlyphs">friendliness by 1% compared to the car</text>
<text class="l" x="110.5" y="400.2" font-size="9.6" textLength="63.91" lengthAdjust="spacingAndGlyphs">WTP (AUD $m)</text>
<text class="b" x="11" y="487.6" font-size="9.3" font-weight="bold" textLength="16.8" lengthAdjust="spacingAndGlyphs">BRT</text>
<text class="b" x="11" y="631.6" font-size="9.3" font-weight="bold" textLength="14.79" lengthAdjust="spacingAndGlyphs">LRT</text>
<text class="l" x="42" y="438.67" font-size="9.6" textLength="24.88" lengthAdjust="spacingAndGlyphs">Prefer</text>
<text class="l" x="42" y="584.57" font-size="9.6" textLength="24.88" lengthAdjust="spacingAndGlyphs">Prefer</text>
<text class="l" x="41.8" y="462.99" font-size="9.6" textLength="25.11" lengthAdjust="spacingAndGlyphs">Metro</text>
<text class="l" x="41.8" y="608.88" font-size="9.6" textLength="25.11" lengthAdjust="spacingAndGlyphs">Metro</text>
<text class="l" x="44.2" y="487.3" font-size="9.6" textLength="22.69" lengthAdjust="spacingAndGlyphs">Value</text>
<text class="l" x="44.2" y="633.2" font-size="9.6" textLength="22.69" lengthAdjust="spacingAndGlyphs">Value</text>
<text class="l" x="47.6" y="511.62" font-size="9.6" textLength="19.02" lengthAdjust="spacingAndGlyphs">Vote</text>
<text class="l" x="47.6" y="657.51" font-size="9.6" textLength="19.02" lengthAdjust="spacingAndGlyphs">Vote</text>
<text class="l" x="51.2" y="535.93" font-size="9.6" textLength="15.2" lengthAdjust="spacingAndGlyphs">Live</text>
<text class="l" x="51.2" y="681.83" font-size="9.6" textLength="15.2" lengthAdjust="spacingAndGlyphs">Live</text>
<text class="l" x="67.6" y="413.5" font-size="9.0" textLength="17.71" lengthAdjust="spacingAndGlyphs">0.00</text>
<text class="l" x="143.8" y="413.5" font-size="9.0" textLength="17.41" lengthAdjust="spacingAndGlyphs">1.00</text>
<text class="t" x="237.1" y="364.3" font-size="12.0" textLength="204.8" lengthAdjust="spacingAndGlyphs">Increase the travel time compared to</text>
<text class="t" x="280.4" y="381.1" font-size="12.0" textLength="118.41" lengthAdjust="spacingAndGlyphs">the car by 1% quicker</text>
<text class="l" x="331.6" y="399.3" font-size="9.6" textLength="63.51" lengthAdjust="spacingAndGlyphs">WTP (AUD $m)</text>
<text class="b" x="237.1" y="632.6" font-size="9.3" font-weight="bold" textLength="15.29" lengthAdjust="spacingAndGlyphs">LRT</text>
<text class="l" x="267.3" y="439.63" font-size="9.6" textLength="24.88" lengthAdjust="spacingAndGlyphs">Prefer</text>
<text class="l" x="267.3" y="586.71" font-size="9.6" textLength="24.88" lengthAdjust="spacingAndGlyphs">Prefer</text>
<text class="l" x="267.1" y="464.14" font-size="9.6" textLength="25.11" lengthAdjust="spacingAndGlyphs">Metro</text>
<text class="l" x="267.1" y="611.23" font-size="9.6" textLength="25.11" lengthAdjust="spacingAndGlyphs">Metro</text>
<text class="l" x="269.5" y="488.66" font-size="9.6" textLength="22.69" lengthAdjust="spacingAndGlyphs">Value</text>
<text class="l" x="269.5" y="635.74" font-size="9.6" textLength="22.69" lengthAdjust="spacingAndGlyphs">Value</text>
<text class="l" x="272.9" y="513.17" font-size="9.6" textLength="19.02" lengthAdjust="spacingAndGlyphs">Vote</text>
<text class="l" x="272.9" y="660.26" font-size="9.6" textLength="19.02" lengthAdjust="spacingAndGlyphs">Vote</text>
<text class="l" x="276.5" y="537.69" font-size="9.6" textLength="15.2" lengthAdjust="spacingAndGlyphs">Live</text>
<text class="l" x="276.5" y="684.77" font-size="9.6" textLength="15.2" lengthAdjust="spacingAndGlyphs">Live</text>
<text class="l" x="292.8" y="414.1" font-size="9.0" textLength="17.81" lengthAdjust="spacingAndGlyphs">0.00</text>
<text class="l" x="337.9" y="414.1" font-size="9.0" textLength="17.51" lengthAdjust="spacingAndGlyphs">0.20</text>
<text class="l" x="382.7" y="414.1" font-size="9.0" textLength="17.61" lengthAdjust="spacingAndGlyphs">0.40</text>
<text class="l" x="427.8" y="414.1" font-size="9.0" textLength="17.51" lengthAdjust="spacingAndGlyphs">0.60</text>
<text class="t" x="477.1" y="364.3" font-size="12.0" textLength="197.02" lengthAdjust="spacingAndGlyphs">Reduce the travel cost compared to</text>
<text class="t" x="538.4" y="381.1" font-size="12.0" textLength="73.59" lengthAdjust="spacingAndGlyphs">the car by 1%</text>
<text class="l" x="571.1" y="404" font-size="9.6" textLength="64.01" lengthAdjust="spacingAndGlyphs">WTP (AUD $m)</text>
<text class="b" x="468.8" y="491.5" font-size="9.3" font-weight="bold" textLength="16.4" lengthAdjust="spacingAndGlyphs">BRT</text>
<text class="b" x="470.2" y="634.7" font-size="9.3" font-weight="bold" textLength="15.09" lengthAdjust="spacingAndGlyphs">LRT</text>
<text class="l" x="499.3" y="442.36" font-size="9.6" textLength="24.88" lengthAdjust="spacingAndGlyphs">Prefer</text>
<text class="l" x="499.3" y="588.47" font-size="9.6" textLength="24.88" lengthAdjust="spacingAndGlyphs">Prefer</text>
<text class="l" x="499.1" y="466.71" font-size="9.6" textLength="25.11" lengthAdjust="spacingAndGlyphs">Metro</text>
<text class="l" x="499.1" y="612.82" font-size="9.6" textLength="25.11" lengthAdjust="spacingAndGlyphs">Metro</text>
<text class="l" x="501.5" y="491.06" font-size="9.6" textLength="22.69" lengthAdjust="spacingAndGlyphs">Value</text>
<text class="l" x="501.5" y="637.18" font-size="9.6" textLength="22.69" lengthAdjust="spacingAndGlyphs">Value</text>
<text class="l" x="504.9" y="515.42" font-size="9.6" textLength="19.02" lengthAdjust="spacingAndGlyphs">Vote</text>
<text class="l" x="504.9" y="661.53" font-size="9.6" textLength="19.02" lengthAdjust="spacingAndGlyphs">Vote</text>
<text class="l" x="508.5" y="539.77" font-size="9.6" textLength="15.2" lengthAdjust="spacingAndGlyphs">Live</text>
<text class="l" x="508.5" y="685.88" font-size="9.6" textLength="15.2" lengthAdjust="spacingAndGlyphs">Live</text>
<text class="l" x="524.8" y="417.2" font-size="9.0" textLength="18.11" lengthAdjust="spacingAndGlyphs">0.00</text>
<text class="l" x="570.6" y="417.2" font-size="9.0" textLength="18.51" lengthAdjust="spacingAndGlyphs">0.20</text>
<text class="l" x="616.8" y="417.2" font-size="9.0" textLength="18.11" lengthAdjust="spacingAndGlyphs">0.40</text>
<text class="l" x="662.6" y="417.2" font-size="9.0" textLength="17.61" lengthAdjust="spacingAndGlyphs">0.60</text>
<text class="t" x="195.1" y="725.9" font-size="14.6" textLength="56.74" lengthAdjust="spacingAndGlyphs">Australia</text>
<text class="t" x="280.5" y="725.9" font-size="14.6" textLength="42.63" lengthAdjust="spacingAndGlyphs">France</text>
<text class="t" x="352.4" y="725.9" font-size="14.6" textLength="54.6" lengthAdjust="spacingAndGlyphs">Portugal</text>
<text class="t" x="434.8" y="725.9" font-size="14.6" textLength="16.79" lengthAdjust="spacingAndGlyphs">UK</text>
<text class="t" x="482.6" y="725.9" font-size="14.6" textLength="16.19" lengthAdjust="spacingAndGlyphs">US</text>
</svg>
</body></html>
